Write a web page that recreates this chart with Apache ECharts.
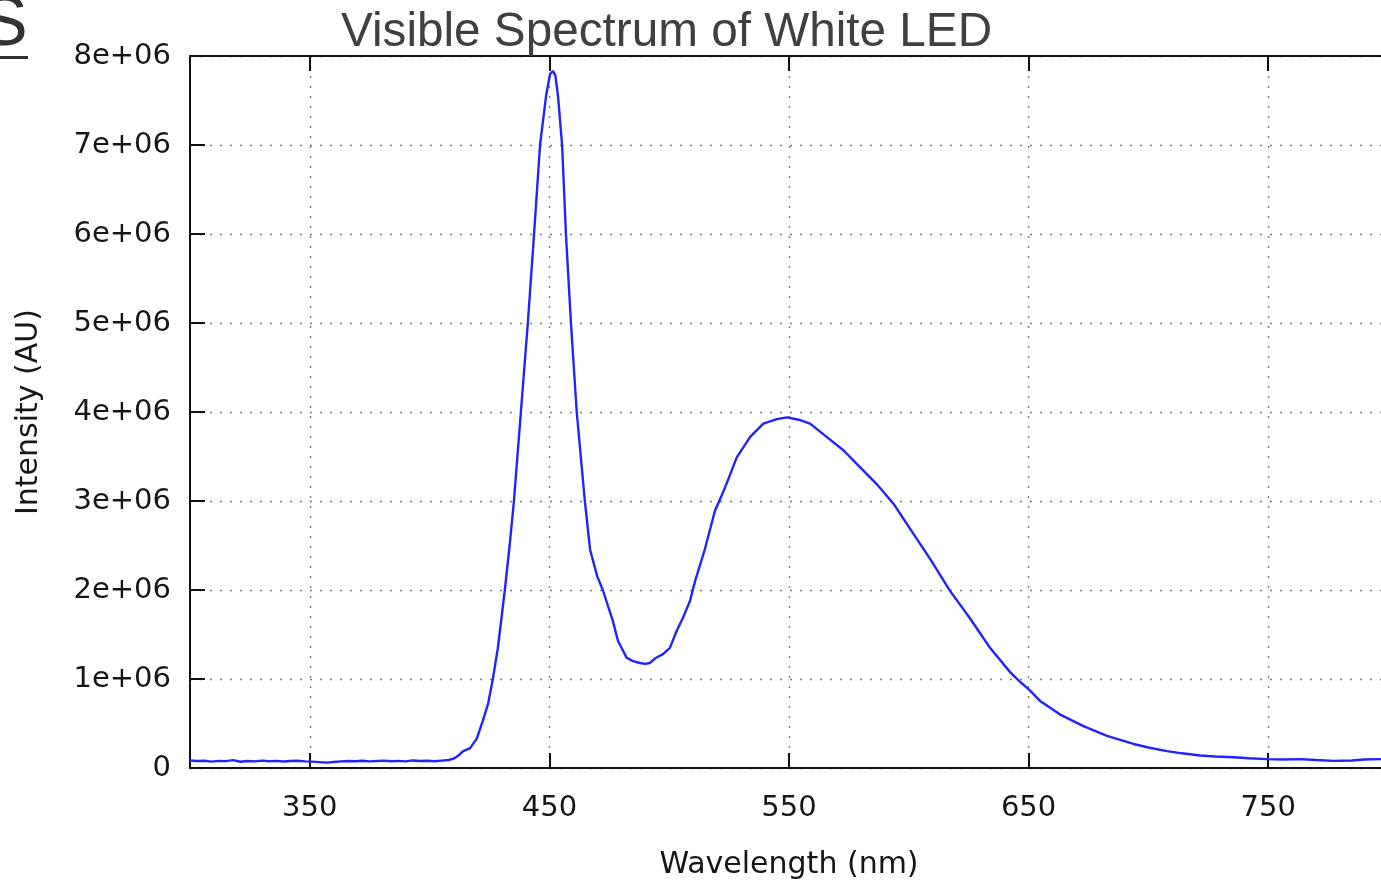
<!DOCTYPE html>
<html>
<head>
<meta charset="utf-8">
<script src="https://cdn.jsdelivr.net/npm/echarts@6/dist/echarts.min.js"></script>
<style>
html,body{margin:0;padding:0;background:#fff;}
#c{width:1381px;height:883px;}
</style>
</head>
<body>
<div id="c"></div>
<script>
// Wavelength (nm)
const wavelengths = [
  300,303,306,309,312,315,318,321,324,327,330,333,336,339,342,345,348,351,354,357,360,363,366,369,372,375,378,381,384,387,390,393,396,399,402,405,408,410,412,414,416.8,419.7,422.2,424.4,426.4,428.5,431.4,433.4,435.2,438.1,441.0,443.6,446.1,448.6,450.3,451.5,452.5,453.6,455.3,456.9,459.0,461.4,464.8,467,470,472.3,476.5,478.6,482.2,484.9,487.8,490,492,494,497.4,500.3,503.1,505.8,508.7,510.8,514.9,519.1,523.3,528.2,533.8,539.3,544.9,549.1,554.6,558.8,565.7,572.7,579.6,586.6,593.6,600.5,608.9,617.2,625.6,633.9,642.2,646,650.2,654.8,663.2,672.9,682.7,693.8,700,707.7,714,721.6,728,735.5,742,749.4,756,763.4,770,777.3,785,790,797.2,800
];
// Intensity (AU)
const intensities = [
  85000,78000,82000,72000,80000,77000,88000,70000,79000,75000,83000,76000,80000,73000,78000,82000,75000,72000,66000,60000,68000,74000,78000,76000,81000,74000,79000,83000,76000,80000,74000,85000,78000,82000,76000,83000,90000,105000,140000,190000,220000,330000,530000,720000,1000000,1350000,2000000,2500000,3000000,4000000,5000000,6000000,7000000,7550000,7800000,7830000,7780000,7550000,7000000,6000000,5000000,4000000,3000000,2450000,2150000,2000000,1650000,1430000,1240000,1200000,1180000,1170000,1180000,1230000,1280000,1350000,1540000,1690000,1880000,2100000,2460000,2890000,3150000,3490000,3720000,3870000,3920000,3940000,3910000,3870000,3720000,3570000,3380000,3190000,2970000,2690000,2350000,1990000,1680000,1350000,1080000,980000,880000,754000,600000,470000,360000,270000,230000,190000,165000,140000,130000,120000,110000,100000,95000,100000,90000,80000,85000,95000,100000,90000
];
const xTicks = [350, 450, 550, 650, 750];
const yTickLabels = ['0','1e+06','2e+06','3e+06','4e+06','5e+06','6e+06','7e+06','8e+06'];

const seriesData = wavelengths.map((w, i) => [w, intensities[i]]);

const chart = echarts.init(document.getElementById('c'), null, {renderer: 'canvas'});
const labelFont = 'DejaVu Sans';
const textColor = '#161616';
const dotted = {show: true, lineStyle: {color: '#7a7a7a', width: 1.4, type: [2, 8]}};

chart.setOption({
  animation: false,
  backgroundColor: '#ffffff',
  title: {
    text: 'Visible Spectrum of White LED',
    left: 336, top: 4,
    textStyle: {fontFamily: 'Liberation Sans', fontSize: 47.7, fontWeight: 'normal', color: '#404040'}
  },
  graphic: [
    {type: 'text', left: -19, top: -9, style: {text: 'S', font: '70px "Liberation Sans"', fill: '#333'}},
    {type: 'rect', shape: {x: 0, y: 56, width: 28, height: 3}, style: {fill: '#333'}}
  ],
  grid: {left: 190, top: 56, width: 1198, height: 712, containLabel: false, outerBoundsMode: 'none'},
  xAxis: [
    {
      type: 'value', min: 300, max: 800, position: 'bottom',
      name: 'Wavelength (nm)', nameLocation: 'middle', nameGap: 82,
      nameTextStyle: {fontFamily: labelFont, fontSize: 30, color: textColor},
      axisLine: {show: true, lineStyle: {color: '#111', width: 2}},
      axisTick: {show: true, inside: true, length: 15, customValues: xTicks, lineStyle: {color: '#111', width: 2}},
      axisLabel: {customValues: xTicks, fontFamily: labelFont, fontSize: 29, color: textColor, margin: 26},
      splitLine: dotted
    },
    {
      type: 'value', min: 300, max: 800, position: 'top',
      axisLine: {show: true, lineStyle: {color: '#111', width: 2}},
      axisTick: {show: true, inside: true, length: 15, customValues: xTicks, lineStyle: {color: '#111', width: 2}},
      axisLabel: {show: false},
      splitLine: {show: false}
    }
  ],
  yAxis: [
    {
      type: 'value', min: 0, max: 8000000, interval: 1000000,
      name: 'Intensity (AU)', nameLocation: 'middle', nameGap: 146, nameRotate: 90,
      nameTextStyle: {fontFamily: labelFont, fontSize: 30, color: textColor},
      axisLine: {show: true, lineStyle: {color: '#111', width: 2}},
      axisTick: {show: true, inside: true, length: 15, lineStyle: {color: '#111', width: 2}},
      axisLabel: {
        fontFamily: labelFont, fontSize: 29, color: textColor, margin: 19,
        padding: [5, 0, 0, 0],
        formatter: (v) => yTickLabels[Math.round(v / 1000000)]
      },
      splitLine: dotted
    }
  ],
  series: [{
    type: 'line',
    data: seriesData,
    showSymbol: false,
    smooth: false,
    lineStyle: {color: '#2222ff', width: 2.4},
    z: 5
  }]
});
</script>
</body>
</html>
